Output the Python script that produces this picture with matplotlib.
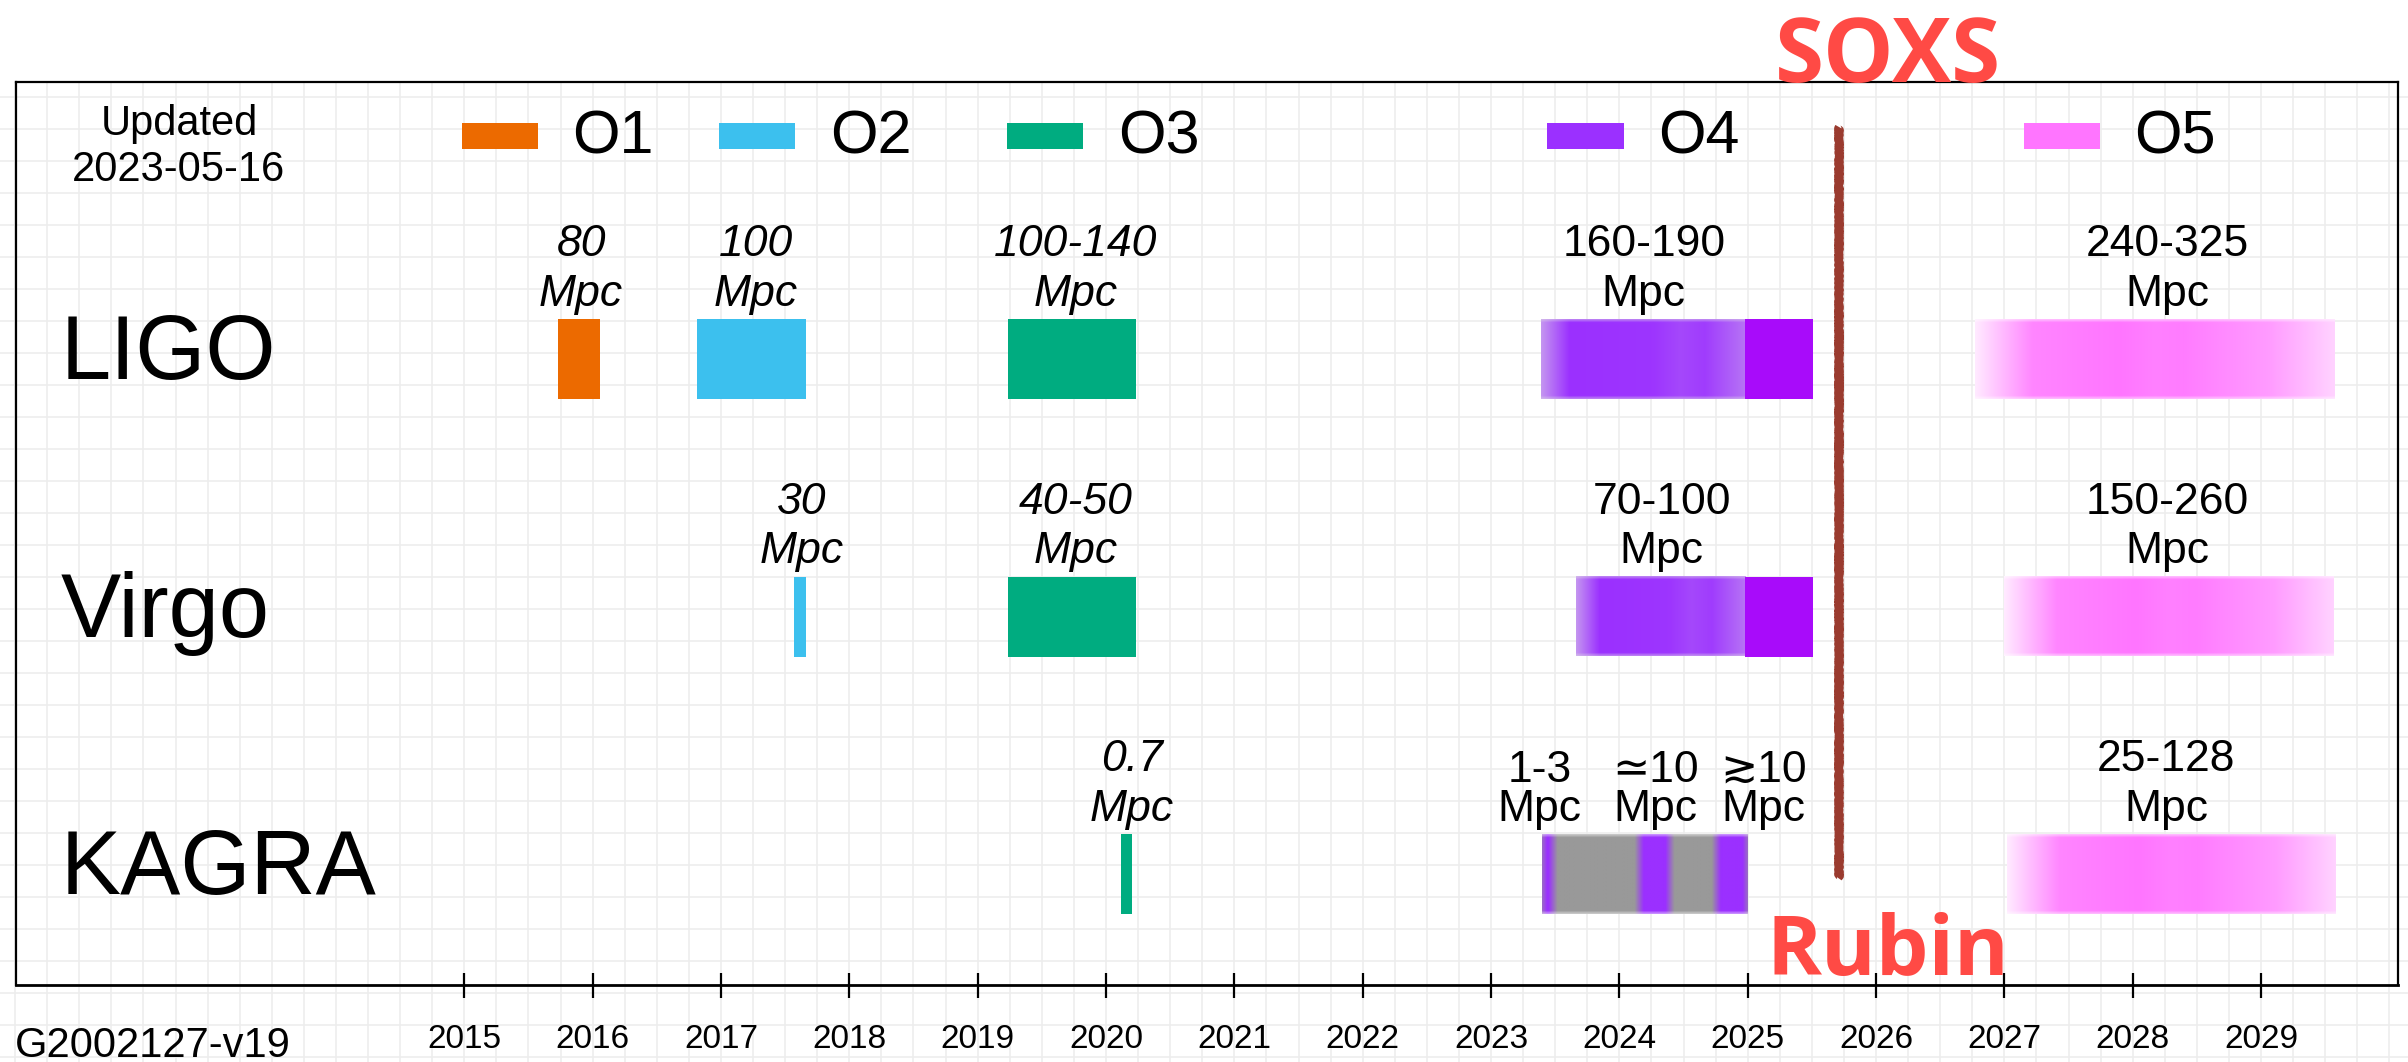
import numpy as np
import matplotlib
matplotlib.use("Agg")
import matplotlib.pyplot as plt
from matplotlib.colors import to_rgb

# ---------------- data ----------------
detectors = ["LIGO", "Virgo", "KAGRA"]
runs = ["O1", "O2", "O3", "O4", "O5"]
run_colors = ["#EC6A00", "#3CC0EE", "#00AC80", "#9B30FF", "#FF75FF"]
years = list(range(2015, 2030))

# completed runs: detector index, run, start, end (decimal year)
past_det = [0, 0, 0, 1, 1, 2]
past_run = ["O1", "O2", "O3", "O2", "O3", "O3"]
past_start = [2015.73, 2016.81, 2019.24, 2017.57, 2019.24, 2020.12]
past_end = [2016.06, 2017.66, 2020.23, 2017.66, 2020.23, 2020.20]

# O4 planned span (faded) and its firm extension
o4_det = [0, 1, 2]
o4_start = [2023.39, 2023.66, 2023.40]
o4_end = [2024.98, 2024.98, 2025.00]
o4_ext_det = [0, 1]
o4_ext_start = [2024.98, 2024.98]
o4_ext_end = [2025.51, 2025.51]
kagra_o4_on = [(2023.40, 2023.49), (2024.15, 2024.40), (2024.75, 2025.00)]

# O5 planned span
o5_det = [0, 1, 2]
o5_start = [2026.77, 2027.00, 2027.02]
o5_end = [2029.57, 2029.57, 2029.58]

# BNS range annotations (Mpc)
range_det = [0, 0, 0, 0, 0, 1, 1, 1, 1, 2, 2, 2, 2, 2]
range_text = ["80", "100", "100-140", "160-190", "240-325",
              "30", "40-50", "70-100", "150-260",
              "0.7", "1-3", "\u224310", "\u227310", "25-128"]
range_x = [2015.91, 2017.27, 2019.76, 2024.19, 2028.27,
           2017.63, 2019.76, 2024.33, 2028.27,
           2020.20, 2023.38, 2024.28, 2025.12, 2028.26]
range_italic = [True, True, True, False, False,
                True, True, False, False,
                True, False, False, False, False]
range_compact = [False] * 10 + [True, True, True, False]

marker_year = 2025.71
legend_x = [2014.98, 2016.985, 2019.23, 2023.44, 2027.15]

# ---------------- layout ----------------
W, H = 2408, 1062
X0_PX, PX_PER_YEAR = 464.3, 128.34        # pixel of 2015 and scale
ROW0_PX, PX_PER_ROW = 359.0, 257.5        # centre of first detector row


def year_at(px):
    return 2015 + (px - X0_PX) / PX_PER_YEAR


def row_at(py):
    return (py - ROW0_PX) / PX_PER_ROW


BAR_H = 80 / PX_PER_ROW
FONT = ["Liberation Sans", "DejaVu Sans"]
plt.rcParams["font.family"] = FONT

fig = plt.figure(figsize=(W / 100, H / 100), dpi=100)
fig.patch.set_facecolor("white")

# background grid across the page
bg = fig.add_axes([0, 0, 1, 1], zorder=0)
bg.set_xlim(year_at(0), year_at(W))
bg.set_ylim(H, 0)
bg.axis("off")
gcol = "#EDEDED"
bg.vlines(np.arange(2011.5, 2030.1, 0.25), 82, H, color=gcol, lw=1.2)
bg.hlines(np.arange(97, H, 32), year_at(0), year_at(W), color=gcol, lw=1.2)

# main timeline axes
L_PX, R_PX, T_PX, B_PX = 16, 2398, 82, 985
ax = fig.add_axes([L_PX / W, 1 - B_PX / H, (R_PX - L_PX) / W, (B_PX - T_PX) / H], zorder=1)
ax.set_facecolor("none")

color_of = dict(zip(runs, run_colors))

# completed runs
for d, r, s, e in zip(past_det, past_run, past_start, past_end):
    ax.barh(d, e - s, left=s, height=BAR_H, color=color_of[r], zorder=3)


def faded_bar(row, x0, x1, rgb_cols, white_w, tint="#FFFFFF"):
    """Bar drawn as an image whose colour fades toward `tint`."""
    ny = 60
    t = np.repeat(white_w[None, :], ny, axis=0)
    v = np.linspace(0, 1, ny)
    edge = np.clip(1 - np.minimum(v, 1 - v) / 0.035, 0, 1) * 0.45
    w = np.clip(t + edge[:, None] * (1 - t), 0, 1)[..., None]
    img = (1 - w) * rgb_cols[None, :, :] + w * np.array(to_rgb(tint))
    ax.imshow(img, extent=(x0, x1, row + BAR_H / 2, row - BAR_H / 2),
              aspect="auto", interpolation="bilinear", zorder=3)


NX = 500
tt = np.linspace(0, 1, NX)

# O4 faded spans
o4_rgb = np.tile(np.array(to_rgb(color_of["O4"])), (NX, 1))
o4_white = np.interp(tt, [0, 0.14, 0.55, 0.68, 0.80, 1.0],
                     [0.60, 0.0, 0.03, 0.14, 0.07, 0.40])
for d, s, e in zip(o4_det, o4_start, o4_end):
    if detectors[d] == "KAGRA":
        xs = np.linspace(s, e, NX)
        p = np.zeros(NX)
        for a, b in kagra_o4_on:
            up = np.clip((xs - a + 0.03) / 0.07, 0, 1)
            dn = np.clip((b + 0.03 - xs) / 0.07, 0, 1)
            p = np.maximum(p, np.minimum(up, dn))
        grey = np.array(to_rgb("#999999"))
        cols = (1 - p[:, None]) * grey + p[:, None] * np.array(to_rgb(color_of["O4"]))
        faded_bar(d, s, e, cols, np.zeros(NX))
    else:
        faded_bar(d, s, e, o4_rgb, o4_white, tint="#E0DAE6")

for d, s, e in zip(o4_ext_det, o4_ext_start, o4_ext_end):
    ax.barh(d, e - s, left=s, height=BAR_H, color="#A80BFA", zorder=3)

# O5 faded spans
o5_rgb = np.tile(np.array(to_rgb(color_of["O5"])), (NX, 1))
o5_white = np.interp(tt, [0, 0.16, 0.40, 0.50, 0.58, 0.82, 1.0],
                     [0.85, 0.12, 0.0, 0.08, 0.05, 0.28, 0.68])
for d, s, e in zip(o5_det, o5_start, o5_end):
    faded_bar(d, s, e, o5_rgb, o5_white)

# range annotations
for d, txt, x, it, cmp_ in zip(range_det, range_text, range_x, range_italic, range_compact):
    ax.text(x, d - BAR_H / 2 - 4 / PX_PER_ROW, f"{txt}\nMpc", ha="center", va="bottom",
            fontsize=32, style="italic" if it else "normal",
            linespacing=0.95 if cmp_ else 1.28, zorder=5)

# detector names
for i, name in enumerate(detectors):
    ax.text(year_at(61), i + 20 / PX_PER_ROW, name, ha="left", va="baseline",
            fontsize=65, zorder=5)

# legend
for lx, r, c in zip(legend_x, runs, run_colors):
    ax.barh(row_at(136), 0.593, left=lx, height=26 / PX_PER_ROW, color=c, zorder=3)
    ax.text(lx + 0.593 + 0.27, row_at(153), r, ha="left", va="baseline",
            fontsize=44, zorder=5)

ax.text(year_at(179), row_at(147), "Updated\n2023-05-16", ha="center", va="center",
        fontsize=30, linespacing=1.2, zorder=5)

# SOXS / Rubin marker
ln, = ax.plot([marker_year, marker_year], [row_at(127), row_at(878)],
              color="#9A3B2F", lw=6.0, solid_capstyle="butt", zorder=4)
ln.set_sketch_params(scale=0.8, length=4, randomness=2)

ax.set_xlim(year_at(L_PX), year_at(R_PX))
ax.set_ylim(row_at(B_PX), row_at(T_PX))
ax.set_aspect("auto")
ax.set_yticks([])
ax.set_xticks(years)
ax.set_xticklabels([str(y) for y in years])
ax.tick_params(axis="x", direction="inout", length=18, width=1.6, pad=19,
               labelsize=24, colors="black")
for sp in ax.spines.values():
    sp.set_color("black")
    sp.set_linewidth(1.6)
ax.spines["bottom"].set_linewidth(2.0)

fig.text(15 / W, 1 - 1057 / H, "G2002127-v19", ha="left", va="baseline", fontsize=30)

fig.text(1888 / W, 1 - 82 / H, "SOXS", ha="center", va="baseline", fontsize=64,
         fontweight="bold", family="Open Sans", color="#FF4A45", zorder=10)
fig.text(1888 / W, 1 - 975 / H, "Rubin", ha="center", va="baseline", fontsize=60,
         fontweight="bold", family="Open Sans", color="#FF4A45", zorder=10)

fig.savefig("out.png", dpi=100)
